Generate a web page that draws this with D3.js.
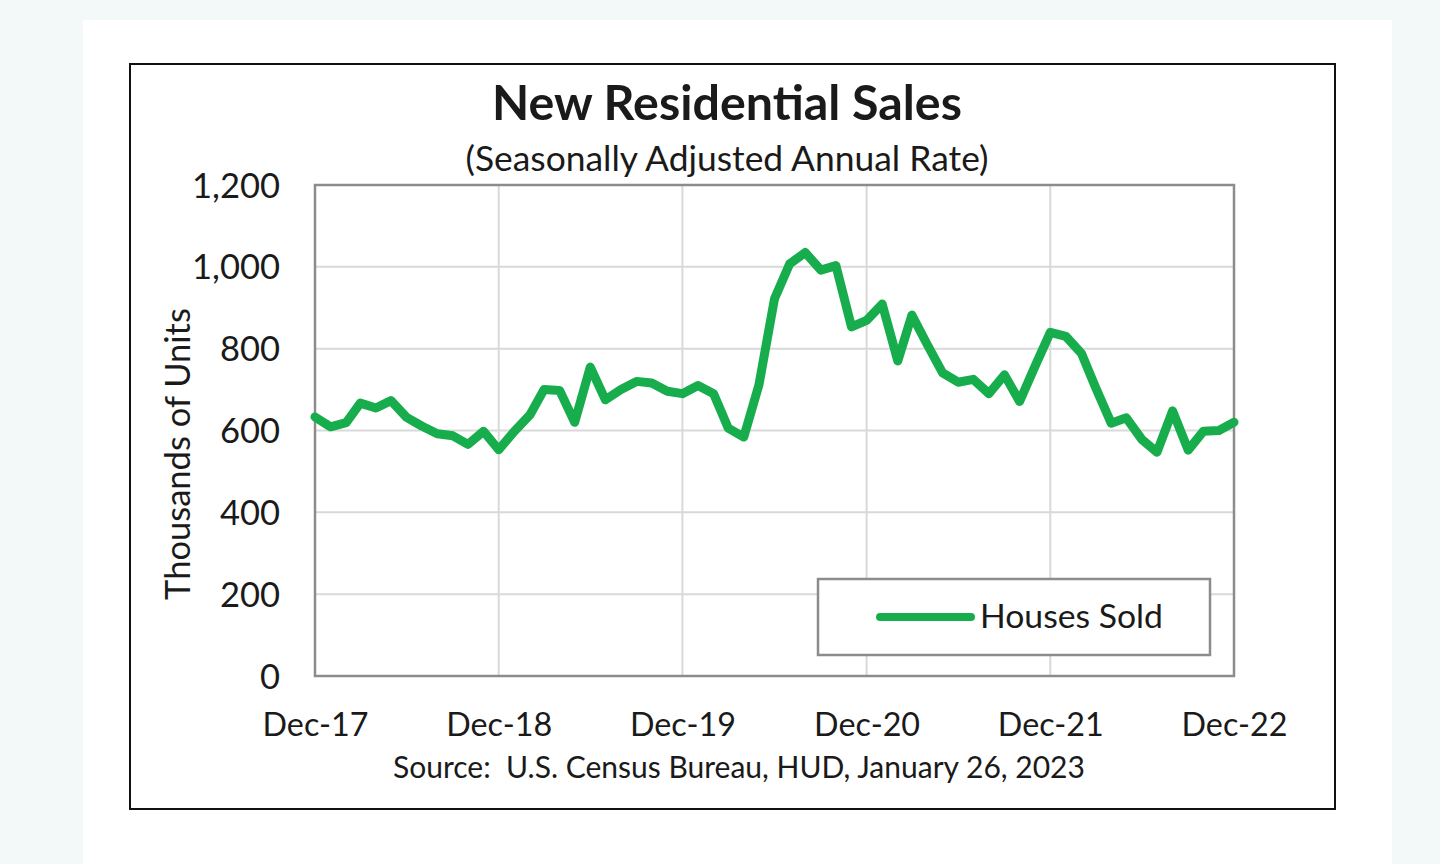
<!DOCTYPE html>
<html>
<head>
<meta charset="utf-8">
<script src="https://cdn.jsdelivr.net/npm/d3@7"></script>
<style>
  html, body { margin: 0; padding: 0; background: #f3f9f9; }
  svg { display: block; }
  text { font-family: Lato, "Open Sans", sans-serif; fill: #1a1a1a; white-space: pre; }
</style>
</head>
<body>
<svg id="chart" width="1440" height="864"></svg>
<script>
// ---- Data (thousands of units, SAAR), monthly Dec-2017 .. Dec-2022 ----
const months = d3.range(61).map(i => new Date(2017, 11 + i, 1));
const housesSold = [
  633, 609, 619, 667, 655, 673, 632, 611, 592, 587, 566, 598,
  553, 598, 638, 700, 698, 620, 755, 675, 700, 720, 716, 696,
  690, 710, 690, 606, 584, 711, 922, 1007, 1035, 992, 1003, 853,
  869, 909, 770, 882, 809, 741, 718, 725, 690, 736, 671, 758,
  840, 830, 788, 705, 618, 631, 578, 547, 648, 552, 598, 600, 620
];
const yTicks = [0, 200, 400, 600, 800, 1000, 1200];
const xTickDates = [new Date(2017,11,1), new Date(2018,11,1), new Date(2019,11,1),
                    new Date(2020,11,1), new Date(2021,11,1), new Date(2022,11,1)];
const xTickLabels = ["Dec-17", "Dec-18", "Dec-19", "Dec-20", "Dec-21", "Dec-22"];
const titleText = "New Residential Sales";
const subtitleText = "(Seasonally Adjusted Annual Rate)";
const yTitleText = "Thousands of Units";
const sourceText = "Source:  U.S. Census Bureau, HUD, January 26, 2023";
const seriesName = "Houses Sold";

// ---- Layout ----
const svg = d3.select("#chart");
const plot = { left: 315, right: 1234, top: 185, bottom: 676 };
const green = "#17ad4d";

// fit text to a target width by adjusting font-size
function fit(sel, target) {
  const fs = parseFloat(sel.attr("font-size"));
  const w = sel.node().getComputedTextLength();
  sel.attr("font-size", (fs * target / w).toFixed(2));
  return sel;
}

// white card
svg.append("rect").attr("x", 83).attr("y", 20).attr("width", 1309).attr("height", 844).attr("fill", "#ffffff");
// outer black frame
svg.append("rect").attr("x", 130).attr("y", 64).attr("width", 1205).attr("height", 745)
  .attr("fill", "#fff").attr("stroke", "#111").attr("stroke-width", 2);

const x = d3.scaleTime().domain([months[0], months[months.length - 1]]).range([plot.left, plot.right]);
const y = d3.scaleLinear().domain([0, 1200]).range([plot.bottom, plot.top]);

// gridlines
svg.append("g")
  .selectAll("line.h").data(yTicks).join("line")
  .attr("x1", plot.left).attr("x2", plot.right)
  .attr("y1", d => y(d)).attr("y2", d => y(d))
  .attr("stroke", "#d9d9d9").attr("stroke-width", 2);
svg.append("g")
  .selectAll("line.v").data(xTickDates).join("line")
  .attr("x1", d => x(d)).attr("x2", d => x(d))
  .attr("y1", plot.top).attr("y2", plot.bottom)
  .attr("stroke", "#d9d9d9").attr("stroke-width", 2);

// plot area border
svg.append("rect").attr("x", plot.left).attr("y", plot.top)
  .attr("width", plot.right - plot.left).attr("height", plot.bottom - plot.top)
  .attr("fill", "none").attr("stroke", "#8c8c8c").attr("stroke-width", 2.5);

// axes (labels only, via d3 axes)
const yAxis = svg.append("g").attr("transform", `translate(${plot.left},0)`)
  .call(d3.axisLeft(y).tickValues(yTicks).tickFormat(d3.format(",")).tickSize(0).tickPadding(35));
yAxis.select(".domain").remove();
yAxis.selectAll("text").attr("font-size", 30).attr("font-family", "Lato, sans-serif")
  .attr("fill", "#1a1a1a").attr("dy", "0.35em");
{
  const t = yAxis.selectAll("text").filter(d => d === 1200);
  const w = t.node().getComputedTextLength();
  const fs = 30 * 88 / w;
  yAxis.selectAll("text").attr("font-size", fs.toFixed(2));
}

const xAxis = svg.append("g").attr("transform", `translate(0,${plot.bottom})`)
  .call(d3.axisBottom(x).tickValues(xTickDates).tickFormat((d, i) => xTickLabels[i]).tickSize(0).tickPadding(0));
xAxis.select(".domain").remove();
xAxis.selectAll("text").attr("font-size", 30).attr("font-family", "Lato, sans-serif")
  .attr("fill", "#1a1a1a").attr("dy", "0").attr("y", 60);
{
  const t = xAxis.selectAll("text").filter((d, i) => i === 0);
  const w = t.node().getComputedTextLength();
  const fs = 30 * 106 / w;
  xAxis.selectAll("text").attr("font-size", fs.toFixed(2));
}

// line
const line = d3.line().x((d, i) => x(months[i])).y(d => y(d)).curve(d3.curveLinear);
svg.append("path").datum(housesSold).attr("d", line)
  .attr("fill", "none").attr("stroke", green).attr("stroke-width", 9)
  .attr("stroke-linejoin", "round").attr("stroke-linecap", "round");

// titles
fit(svg.append("text").attr("x", 727).attr("y", 120).attr("text-anchor", "middle")
  .attr("font-weight", 700).attr("font-size", 38).text(titleText), 470);
fit(svg.append("text").attr("x", 727).attr("y", 171).attr("text-anchor", "middle")
  .attr("font-size", 28).text(subtitleText), 523);

// y axis title
fit(svg.append("text").attr("transform", "translate(190,454) rotate(-90)").attr("text-anchor", "middle")
  .attr("font-size", 30).text(yTitleText), 292);

// source
fit(svg.append("text").attr("x", 739).attr("y", 778).attr("text-anchor", "middle")
  .attr("font-size", 24).text(sourceText), 692);

// legend
svg.append("rect").attr("x", 818).attr("y", 579).attr("width", 392).attr("height", 76)
  .attr("fill", "#fff").attr("stroke", "#8c8c8c").attr("stroke-width", 2.5);
svg.append("line").attr("x1", 880).attr("x2", 971).attr("y1", 617).attr("y2", 617)
  .attr("stroke", green).attr("stroke-width", 8).attr("stroke-linecap", "round");
fit(svg.append("text").attr("x", 980).attr("y", 628).attr("font-size", 30).text(seriesName), 183);
</script>
</body>
</html>
